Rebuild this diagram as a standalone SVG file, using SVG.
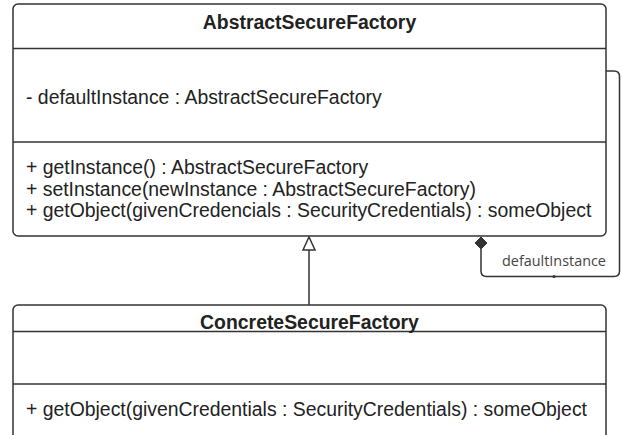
<svg xmlns="http://www.w3.org/2000/svg" width="622" height="435" viewBox="0 0 622 435">
<style>
.box{fill:#fff;stroke:#333;stroke-width:1.5}
.sep{stroke:#333;stroke-width:1.5}
.t{font-family:"Liberation Sans",Arial,sans-serif;font-size:19.4px;fill:#222}
.b{font-weight:bold;text-anchor:middle}
.lbl{font-family:"Open Sans",sans-serif;font-size:14.4px;fill:#444}
.ln{fill:none;stroke:#333;stroke-width:1.5}
</style>
<rect width="622" height="435" fill="#fff"/>
<g id="AbstractSecureFactory">
<rect class="box" x="13" y="4" width="593" height="232" rx="5"/>
<line class="sep" x1="13" y1="48.5" x2="606" y2="48.5"/>
<line class="sep" x1="13" y1="142" x2="606" y2="142"/>
<text class="t b" x="309.5" y="29">AbstractSecureFactory</text>
<text class="t" x="26" y="104">- defaultInstance : AbstractSecureFactory</text>
<text class="t" x="26" y="174">+ getInstance() : AbstractSecureFactory</text>
<text class="t" x="26" y="195.5">+ setInstance(newInstance : AbstractSecureFactory)</text>
<text class="t" x="26" y="217">+ getObject(givenCredencials : SecurityCredentials) : someObject</text>
</g>
<g id="ConcreteSecureFactory">
<rect class="box" x="13" y="305" width="593" height="140" rx="5"/>
<line class="sep" x1="13" y1="331.5" x2="606" y2="331.5"/>
<line class="sep" x1="13" y1="384" x2="606" y2="384"/>
<text class="t b" x="309.5" y="329">ConcreteSecureFactory</text>
<text class="t" x="26" y="415.5">+ getObject(givenCredentials : SecurityCredentials) : someObject</text>
</g>
<g id="connectors">
<path class="ln" d="M309 305 V250"/>
<path d="M309 237 L303 250 L315 250 Z" fill="#fff" stroke="#333" stroke-width="1.5"/>
<path class="ln" d="M606 71 H614 Q619.5 71 619.5 76.5 V271 Q619.5 276.5 614 276.5 H486.5 Q481 276.5 481 271 V249"/>
<path d="M481 237 L487 243 L481 249 L475 243 Z" fill="#333" stroke="#333" stroke-width="1"/>
<circle cx="554" cy="276.5" r="1.6" fill="#333"/>
<text class="lbl" x="502" y="265.5">defaultInstance</text>
</g>
</svg>
